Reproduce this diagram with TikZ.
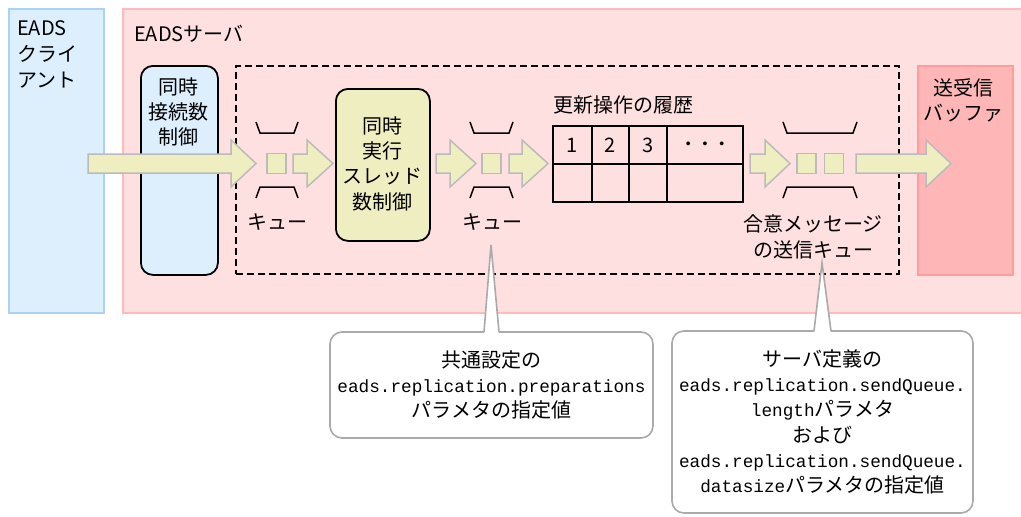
\documentclass[tikz,border=0pt]{standalone}
\usepackage{fontspec}
\setmainfont{Noto Sans CJK JP}
\newfontfamily\monofont{Liberation Mono}
\usetikzlibrary{positioning, calc}

\definecolor{clientfill}{HTML}{DDEEFD}
\definecolor{clientline}{HTML}{AAD2F5}
\definecolor{serverfill}{HTML}{FFE0E0}
\definecolor{serverline}{HTML}{FFBABA}
\definecolor{bufferfill}{HTML}{FFB6B6}
\definecolor{bufferline}{HTML}{FF9C9C}
\definecolor{flowfill}{HTML}{EEEEC0}
\definecolor{flowline}{HTML}{BBBBBB}
\definecolor{noteline}{HTML}{AAAAAA}

\newcommand{\fatarrow}[3]{%
  \draw[flowarrow] (#1,154) -- (#2,154) -- (#2,140) -- (#3,163.5) -- (#2,187)
    -- (#2,173) -- (#1,173) -- cycle;}
\newcommand{\queuebrackets}[2]{%
  \draw[bracket] (#1,122) -- ($(#1,133)+(4,0)$) -- ($(#2,133)+(-4,0)$) -- (#2,122);
  \draw[bracket] (#1,198) -- ($(#1,187)+(4,0)$) -- ($(#2,187)+(-4,0)$) -- (#2,198);}

\begin{document}
\begin{tikzpicture}[x=1pt,y=-1pt,
  every node/.style={font=\fontsize{20}{25.3}\selectfont, inner sep=0pt},
  area/.style={draw, line width=1.6pt, anchor=north west},
  control/.style={draw=black, line width=1.8pt, rounded corners=12pt, anchor=north west},
  flowarrow/.style={fill=flowfill, draw=flowline, line width=1.5pt},
  bracket/.style={draw=black, line width=1.5pt},
  slot/.style={fill=flowfill, draw=flowline, line width=1.4pt, minimum width=19pt, minimum height=20pt},
  cell/.style={draw=black, fill=serverfill, line width=1.8pt, minimum height=38pt},
  note/.style={draw=noteline, fill=white, line width=1.6pt, rounded corners=12pt, align=center}]
\useasboundingbox (0,0) rectangle (1021,517);

% outer areas
\node[area, fill=clientfill, draw=clientline, minimum width=95pt, minimum height=304pt] (client) at (8,8) {};
\node[area, fill=serverfill, draw=serverline, minimum width=910pt, minimum height=304pt] (server) at (122,8) {};
\node[anchor=west, align=left, font=\fontsize{20}{26}\selectfont] (clientlabel) at (17,54) {EADS\\クライ\\アント};
\node[anchor=west] (serverlabel) at (134,34) {EADSサーバ};

% controls and regions
\node[control, fill=clientfill, minimum width=77pt, minimum height=209pt] (connlimit) at (140,65) {};
\node[align=center] (connlabel) at (178.5,112) {同時\\接続数\\制御};
\node[draw=black, dash pattern=on 7pt off 4pt, line width=1.6pt, anchor=north west,
  minimum width=663pt, minimum height=208pt] (region) at (235,65) {};
\node[control, fill=flowfill, minimum width=94pt, minimum height=152pt] (threadlimit) at (335,88) {};
\node[align=center] (threadlabel) at (382,163.5) {同時\\実行\\スレッド\\数制御};
\node[area, fill=bufferfill, draw=bufferline, minimum width=95pt, minimum height=209pt] (buffer) at (917,65) {};
\node[align=center] (bufferlabel) at (963,100.5) {送受信\\バッファ};

% flow
\fatarrow{88}{231}{256}
\queuebrackets{256}{298}
\node[slot] (slotA) at (276.5,163.5) {};
\fatarrow{293}{307}{333}
\node (queueA) at (277,222) {キュー};

\fatarrow{436}{450}{476}
\queuebrackets{470}{513}
\node[slot] (slotB) at (491.5,163.5) {};
\fatarrow{509}{522}{548}
\node (queueB) at (492,222) {キュー};

% history of update operations
\node[anchor=south west] (historylabel) at (553,114) {更新操作の履歴};
\foreach \i/\l/\r/\t in {1/553/592/1, 2/592/629/2, 3/629/667/3,
    4/667/743/{\monofont\fontsize{14}{14}\selectfont • • •}} {
  \node[cell, minimum width=\r-\l] (top\i) at ({(\l+\r)/2},145) {\t};
  \node[cell, minimum width=\r-\l] (bot\i) at ({(\l+\r)/2},183) {};
}

\fatarrow{750}{765}{790}
\queuebrackets{783}{857}
\node[slot] (slotC) at (806.5,163.5) {};
\node[slot] (slotD) at (834,163.5) {};
\fatarrow{856}{926}{951}
\node[align=center] (queueC) at (813,237) {合意メッセージ\\の送信キュー};

% notes
\coordinate (tipA) at (491,245);
\coordinate (tipB) at (822,263);
\node[note, minimum width=323pt, minimum height=106pt] (prepnote) at (491.5,385)
  {共通設定の\\{\monofont\fontsize{17.7}{25.3}\selectfont eads.replication.preparations}\\パラメタの指定値};
\node[note, minimum width=301pt, minimum height=182pt] (queuenote) at (822.5,422)
  {サーバ定義の\\{\monofont\fontsize{17.7}{25.3}\selectfont eads.replication.sendQueue.}\\{\monofont\fontsize{17.7}{25.3}\selectfont length}パラメタ\\および\\{\monofont\fontsize{17.7}{25.3}\selectfont eads.replication.sendQueue.}\\{\monofont\fontsize{17.7}{25.3}\selectfont datasize}パラメタの指定値};
\fill[white] (484,335) -- (tipA) -- (499,335) -- cycle;
\draw[draw=noteline, line width=1.6pt] (484,332) -- (tipA) -- (499,332);
\fill[white] (814,334) -- (tipB) -- (831,334) -- cycle;
\draw[draw=noteline, line width=1.6pt] (814,331) -- (tipB) -- (831,331);
\end{tikzpicture}
\end{document}
